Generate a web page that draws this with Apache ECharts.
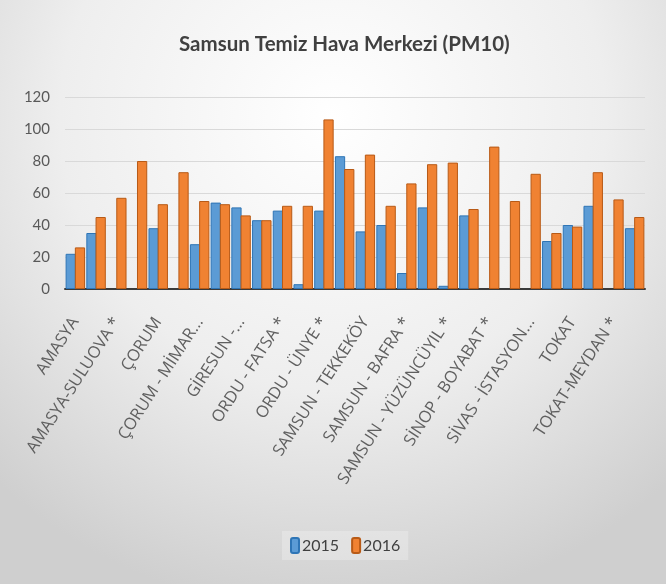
<!DOCTYPE html>
<html>
<head>
<meta charset="utf-8">
<title>Samsun Temiz Hava Merkezi (PM10)</title>
<script src="https://cdn.jsdelivr.net/npm/echarts@6/dist/echarts.min.js"></script>
<style>
    html, body { margin: 0; padding: 0; }
    #main { width: 666px; height: 584px; }
</style>
</head>
<body>
<div id="main"></div>
<script>
// istasyonlar (etiketler her ikide bir gorunuyor)
var stations = [
    'AMASYA', 'AMASYA - MERZİFON', 'AMASYA-SULUOVA *', 'AMASYA - ŞEHZADELER',
    'ÇORUM', 'ÇORUM - BAHABEY', 'ÇORUM - MİMAR...', 'GİRESUN',
    'GİRESUN -...', 'ORDU', 'ORDU - FATSA *', 'ORDU - ALTINORDU',
    'ORDU - ÜNYE *', 'SAMSUN', 'SAMSUN - TEKKEKÖY', 'SAMSUN - ATAKUM',
    'SAMSUN - BAFRA *', 'SAMSUN - CANİK', 'SAMSUN - YÜZÜNCÜYIL *', 'SİNOP',
    'SİNOP - BOYABAT *', 'SİVAS', 'SİVAS - İSTASYON...', 'SİVAS - KARŞIYAKA',
    'TOKAT', 'TOKAT - ERBAA', 'TOKAT-MEYDAN *', 'TOKAT - ZİLE'
];
var years = ['2015', '2016'];
var pm2015 = [22, 35, null, null, 38, null, 28, 54, 51, 43, 49, 3, 49, 83,
    36, 40, 10, 51, 2, 46, null, null, null, 30, 40, 52, null, 38];
var pm2016 = [26, 45, 57, 80, 53, 73, 55, 53, 46, 43, 52, 52, 106, 75,
    84, 52, 66, 78, 79, 50, 89, 55, 72, 35, 39, 73, 56, 45];
var yTicks = { min: 0, max: 120, interval: 20 };

var myChart = echarts.init(document.getElementById('main'));
myChart.setOption({
    backgroundColor: {
        type: 'radial', x: 0.5, y: 0.2, r: 0.85,
        colorStops: [
            { offset: 0, color: '#ffffff' },
            { offset: 0.55, color: '#eeeeee' },
            { offset: 1, color: '#cfcfcf' }
        ]
    },
    title: {
        text: 'Samsun Temiz Hava Merkezi (PM10)',
        left: 174,
        top: 29,
        textStyle: {
            fontFamily: 'Lato',
            fontWeight: 'bold',
            fontSize: 20.5,
            color: '#404040'
        }
    },
    legend: {
        data: years,
        bottom: 24,
        left: 282,
        itemWidth: 8,
        itemHeight: 15,
        itemGap: 12,
        backgroundColor: 'rgba(255,255,255,0.25)',
        padding: [6, 8],
        textStyle: {
            fontFamily: 'Lato',
            fontSize: 16,
            color: '#404040',
            padding: [0, 0, 0, -2]
        }
    },
    grid: {
        left: 65,
        right: 21,
        top: 97,
        bottom: 295
    },
    xAxis: {
        type: 'category',
        data: stations,
        axisLine: { lineStyle: { color: '#3a3a3a', width: 2 } },
        axisTick: { show: false },
        axisLabel: {
            interval: 1,
            rotate: 57,
            margin: 30,
            fontFamily: 'Open Sans',
            fontSize: 16.5,
            color: '#606060'
        }
    },
    yAxis: {
        type: 'value',
        min: yTicks.min,
        max: yTicks.max,
        interval: yTicks.interval,
        axisLine: { show: false },
        axisTick: { show: false },
        splitLine: { lineStyle: { color: '#d9d9d9', width: 1 } },
        axisLabel: {
            margin: 15,
            fontFamily: 'Lato',
            fontSize: 15,
            color: '#595959'
        }
    },
    series: [
        {
            name: years[0],
            type: 'bar',
            data: pm2015,
            barGap: '-10%',
            barCategoryGap: '6%',
            itemStyle: { color: '#5b9bd5', borderColor: '#2e75b6', borderWidth: 1 }
        },
        {
            name: years[1],
            type: 'bar',
            data: pm2016,
            itemStyle: { color: '#f08232', borderColor: '#b85a16', borderWidth: 1 }
        }
    ]
});
</script>
</body>
</html>
